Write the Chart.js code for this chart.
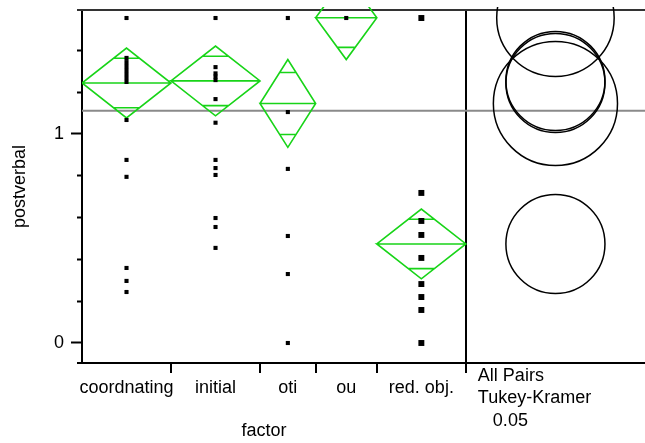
<!DOCTYPE html>
<html><head><meta charset="utf-8">
<script src="https://cdn.jsdelivr.net/npm/chart.js@4.4.1/dist/chart.umd.min.js"></script>
<style>html,body{margin:0;padding:0;background:#fff}canvas{display:block}</style>
</head><body>
<canvas id="c" width="645" height="443"></canvas>
<script>
// ---- data ----
const categories = ['coordnating', 'initial', 'oti', 'ou', 'red. obj.'];
const groupN = [16, 16, 10, 11, 16];
const coordnatingValues = [1.555, 1.364, 1.344, 1.325, 1.306, 1.287, 1.268, 1.249, 1.067, 0.876, 0.795, 0.359, 0.297, 0.244];
const initialValues = [1.555, 1.320, 1.290, 1.275, 1.258, 1.167, 1.054, 0.876, 0.837, 0.804, 0.598, 0.555, 0.455];
const otiValues = [1.555, 1.105, 0.833, 0.512, 0.330, 0.000];
const ouValues = [1.555];
const redObjValues = [1.555, 0.718, 0.584, 0.517, 0.407, 0.282, 0.220, 0.158, 0.000];
const groupMeans = [1.244, 1.254, 1.146, 1.556, 0.474];
const ciHalfWidths = [0.167, 0.167, 0.210, 0.200, 0.167];
const circleRadii = [0.237, 0.237, 0.297, 0.281, 0.237];
const grandMean = 1.111;
const yTickLabels = { 0: '0', 1: '1' };
const yMinorTicks = [0, 0.1, 0.2, 0.3, 0.4, 0.5, 0.6, 0.7, 0.8, 0.9, 1, 1.1, 1.2, 1.3, 1.4, 1.5];
const comparisonLabel = ['All Pairs', 'Tukey-Kramer', '0.05'];
const xTitle = 'factor';
const yTitle = 'postverbal';

// ---- layout / style constants ----
const Y_MIN = -0.0957, Y_MAX = 1.5933;
const X_MAX = 101.2;
const FONT_FAMILY = 'Liberation Sans';
const FONT_SIZE = 18;
const GREEN = 'rgb(24,212,24)';
const groupValues = [coordnatingValues, initialValues, otiValues, ouValues, redObjValues];
const pointSizes = [2.9, 2.9, 2.9, 2.9, 4.2];

const totalN = groupN.reduce((a, b) => a + b, 0);
const starts = [], ends = [], centers = [];
{ let acc = 0; groupN.forEach(n => { starts.push(acc); ends.push(acc + n); centers.push(acc + n / 2); acc += n; }); }
const PANEL_CENTER = (totalN + X_MAX) / 2;

const datasets = [];
// points
groupValues.forEach((vals, gi) => {
  datasets.push({
    label: categories[gi],
    data: vals.map(v => ({ x: centers[gi], y: v })),
    pointStyle: 'rect', pointRadius: pointSizes[gi], pointBackgroundColor: '#000',
    pointBorderWidth: 0, showLine: false, order: 0, clip: { left: 0, top: 3, right: 0, bottom: 0 }
  });
});
// means diamonds
groupMeans.forEach((m, gi) => {
  const l = starts[gi], r = ends[gi], c = centers[gi], h = ciHalfWidths[gi];
  const d = h / Math.SQRT2, half = (r - l) / 2 * (1 - 1 / Math.SQRT2);
  datasets.push({
    label: categories[gi] + ' diamond',
    data: [
      { x: l, y: m }, { x: c, y: m + h }, { x: r, y: m }, { x: c, y: m - h }, { x: l, y: m }, { x: r, y: m },
      { x: c, y: null },
      { x: c - half, y: m + d }, { x: c + half, y: m + d },
      { x: c, y: null },
      { x: c - half, y: m - d }, { x: c + half, y: m - d }
    ],
    showLine: true, spanGaps: false, borderColor: GREEN, borderWidth: 1.6, pointRadius: 0,
    tension: 0, fill: false, order: 1, clip: { left: 0, top: 3, right: 0, bottom: 0 }
  });
});
// comparison circles
datasets.push({
  label: 'comparison circles',
  data: groupMeans.map(m => ({ x: PANEL_CENTER, y: m })),
  showLine: false, pointStyle: 'circle',
  pointRadius: ctx => { const ys = ctx.chart.scales.y; return Math.abs(ys.getPixelForValue(0) - ys.getPixelForValue(circleRadii[ctx.dataIndex])); },
  pointBackgroundColor: 'rgba(0,0,0,0)', pointBorderColor: '#000', pointBorderWidth: 1.5,
  order: 2, clip: { left: 0, top: 3, right: 0, bottom: 0 }
});
// grand mean
datasets.push({
  label: 'grand mean',
  data: [{ x: 0, y: grandMean }, { x: X_MAX, y: grandMean }],
  showLine: true, borderColor: '#8a8a8a', borderWidth: 2, pointRadius: 0, order: 3
});

const isBoundary = v => ends.includes(v);

const framePlugin = {
  id: 'frame',
  beforeDatasetsDraw(chart) {
    const ctx = chart.ctx, a = chart.chartArea;
    ctx.save();
    ctx.lineWidth = 2;
    ctx.strokeStyle = '#333';
    ctx.beginPath(); ctx.moveTo(a.left - 5, a.top); ctx.lineTo(a.right, a.top); ctx.stroke();
    ctx.strokeStyle = '#000';
    ctx.beginPath(); ctx.moveTo(a.left - 5, a.bottom); ctx.lineTo(a.left, a.bottom); ctx.stroke();
    ctx.restore();
  },
  afterDraw(chart) {
    const ctx = chart.ctx, xs = chart.scales.x;
    ctx.save();
    ctx.font = FONT_SIZE + 'px "' + FONT_FAMILY + '"';
    ctx.fillStyle = '#000';
    ctx.textBaseline = 'middle';
    ctx.textAlign = 'center';
    ctx.fillText(xTitle, (xs.getPixelForValue(0) + xs.getPixelForValue(totalN)) / 2 - 10, 431);
    ctx.textAlign = 'left';
    const x0 = xs.getPixelForValue(totalN) + 12;
    const indents = [0, 0, 15];
    comparisonLabel.forEach((t, i) => ctx.fillText(t, x0 + indents[i], 376 + i * 22.5));
    ctx.restore();
  }
};

new Chart(document.getElementById('c'), {
  type: 'scatter',
  data: { datasets },
  plugins: [framePlugin],
  options: {
    responsive: false, devicePixelRatio: 1, animation: false, events: [],
    layout: { autoPadding: false, padding: { top: 10, right: 0, left: 0, bottom: 0 } },
    plugins: { legend: { display: false }, tooltip: { enabled: false } },
    scales: {
      x: {
        type: 'linear', min: 0, max: X_MAX,
        afterBuildTicks: s => {
          s.ticks = ends.map(v => ({ value: v })).concat(centers.map(v => ({ value: v })))
            .sort((a, b) => a.value - b.value);
        },
        afterFit: s => { s.height = 80; s.paddingLeft = 0; s.paddingRight = 0; s.paddingTop = 0; s.paddingBottom = 0; },
        ticks: {
          autoSkip: false, maxRotation: 0, minRotation: 0, padding: 4, color: '#000',
          font: { family: FONT_FAMILY, size: FONT_SIZE },
          callback: v => { const i = centers.indexOf(v); return i >= 0 ? categories[i] : ''; }
        },
        grid: {
          drawOnChartArea: true,
          color: ctx => (ctx.tick && ctx.tick.value === totalN) ? '#000' : 'rgba(0,0,0,0)',
          lineWidth: 2, tickLength: 10, tickWidth: 2,
          tickColor: ctx => (ctx.tick && isBoundary(ctx.tick.value)) ? '#000' : 'rgba(0,0,0,0)'
        },
        border: { display: true, color: '#000', width: 2 }
      },
      y: {
        type: 'linear', min: Y_MIN, max: Y_MAX,
        afterBuildTicks: s => { s.ticks = yMinorTicks.map(v => ({ value: v })); },
        afterFit: s => { s.width = 82; s.paddingLeft = 0; s.paddingRight = 0; s.paddingTop = 0; s.paddingBottom = 0; },
        ticks: {
          padding: 7, color: '#000', font: { family: FONT_FAMILY, size: FONT_SIZE },
          callback: v => (yTickLabels[v] !== undefined ? yTickLabels[v] : '')
        },
        grid: {
          drawOnChartArea: false, tickLength: 11, tickWidth: 2, tickColor: '#000',
          tickBorderDash: ctx => (ctx.tick && yTickLabels[ctx.tick.value] !== undefined) ? [] : [0, 6, 5, 100]
        },
        border: { display: true, color: '#000', width: 2 },
        title: { display: true, text: yTitle, color: '#000', font: { family: FONT_FAMILY, size: FONT_SIZE }, padding: { top: 9, bottom: 0 } }
      }
    }
  }
});
</script>
</body></html>
